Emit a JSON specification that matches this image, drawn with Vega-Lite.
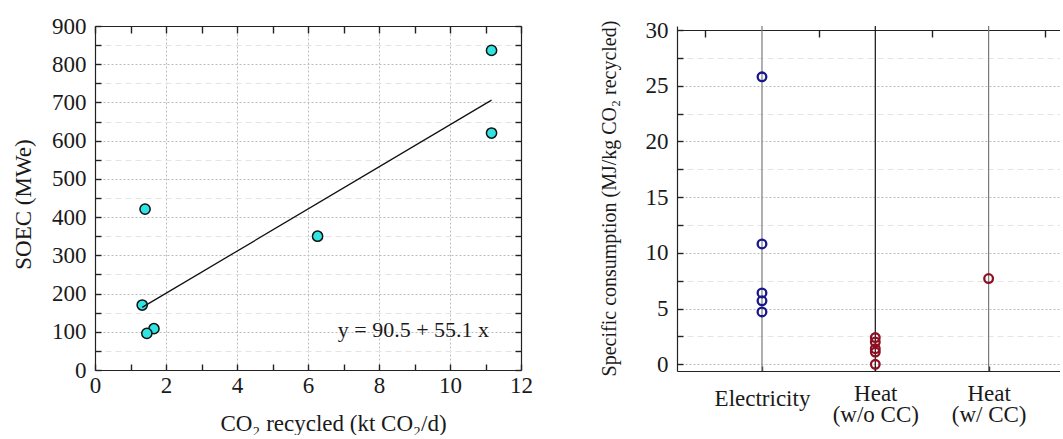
{
  "$schema": "https://vega.github.io/schema/vega-lite/v6.json",
  "padding": {"left": 12, "top": 15, "right": 0, "bottom": 0},
  "bounds": "flush",
  "spacing": 156,
  "config": {
    "view": {"stroke": null},
    "font": "Liberation Serif",
    "axis": {
      "labelFont": "Liberation Serif", "titleFont": "Liberation Serif",
      "labelFontSize": 23, "titleFontSize": 23, "titleFontWeight": "normal",
      "labelColor": "#1a1a1a", "titleColor": "#1a1a1a",
      "domainColor": "#222222", "tickColor": "#222222", "domainWidth": 1.2, "tickWidth": 1.4,
      "labelFlush": false, "labelOverlap": false
    }
  },
  "hconcat": [
    {
      "width": 426,
      "height": 344,
      "layer": [
        {
          "data": {"values": [
            {"x": 11.17, "y": 836},
            {"x": 11.17, "y": 620},
            {"x": 1.41, "y": 421},
            {"x": 6.27, "y": 350},
            {"x": 1.33, "y": 170},
            {"x": 1.66, "y": 108},
            {"x": 1.46, "y": 96}
          ]},
          "mark": {"type": "point", "shape": "circle", "filled": true, "size": 105, "fill": "#30e4e4", "stroke": "#111111", "strokeWidth": 1.5, "opacity": 1},
          "encoding": {
            "x": {"field": "x", "type": "quantitative",
              "scale": {"domain": [0, 12], "nice": false, "zero": false},
              "axis": {"orient": "bottom", "values": [0,1,2,3,4,5,6,7,8,9,10,11,12],
                "labelExpr": "datum.value % 2 === 0 ? datum.label : ''",
                "tickSize": -6, "labelPadding": 10,
                "grid": true, "gridColor": "#bdbdbd", "gridDash": [2, 2],
                "gridOpacity": {"condition": {"test": "datum.value % 2 === 0", "value": 1}, "value": 0},
                "title": "CO₂ recycled (kt CO₂/d)", "titleX": 238, "titleY": 42, "titleBaseline": "top"}},
            "y": {"field": "y", "type": "quantitative",
              "scale": {"domain": [0, 900], "nice": false, "zero": false},
              "axis": {"orient": "left", "values": [0,50,100,150,200,250,300,350,400,450,500,550,600,650,700,750,800,850,900],
                "labelExpr": "datum.value % 100 === 0 ? datum.label : ''",
                "tickSize": -6, "labelPadding": 15,
                "grid": true,
                "gridColor": {"condition": {"test": "datum.value % 100 === 0", "value": "#bdbdbd"}, "value": "#e4e4e4"},
                "gridDash": {"condition": {"test": "datum.value % 100 === 0", "value": [2, 2]}, "value": [6, 4]},
                "title": "SOEC (MWe)", "titleX": -72, "titleY": 178, "titleBaseline": "middle"}}
          }
        },
        {
          "data": {"values": [
            {"x": 1.33, "y": 163.8},
            {"x": 11.17, "y": 706}
          ]},
          "mark": {"type": "line", "color": "#111111", "strokeWidth": 1.3},
          "encoding": {
            "x": {"field": "x", "type": "quantitative",
              "axis": {"orient": "top", "values": [0,1,2,3,4,5,6,7,8,9,10,11,12], "tickSize": -7, "labels": false, "grid": false, "title": null}},
            "y": {"field": "y", "type": "quantitative",
              "axis": {"orient": "right", "values": [0,50,100,150,200,250,300,350,400,450,500,550,600,650,700,750,800,850,900], "tickSize": -6, "labels": false, "grid": false, "title": null}}
          }
        },
        {
          "data": {"values": [{"x": 11.1, "y": 105, "label": "y = 90.5 + 55.1 x"}]},
          "mark": {"type": "text", "align": "right", "baseline": "middle", "font": "Liberation Serif", "fontSize": 22, "color": "#1a1a1a"},
          "encoding": {
            "x": {"field": "x", "type": "quantitative", "axis": null},
            "y": {"field": "y", "type": "quantitative", "axis": null},
            "text": {"field": "label"}
          }
        }
      ],
      "resolve": {"axis": {"x": "independent", "y": "independent"}}
    },
    {
      "width": 383,
      "height": 345,
      "layer": [
        {
          "data": {"values": [{"cat": 1}, {"cat": 2}, {"cat": 3}]},
          "mark": {"type": "rule", "strokeWidth": 1.2},
          "encoding": {
            "x": {"field": "cat", "type": "quantitative",
              "scale": {"domain": [0.25, 3.63], "nice": false, "zero": false},
              "axis": {"orient": "top", "values": [0.5, 1.5, 2.5, 3.5], "tickSize": -7, "labels": false, "grid": false, "title": null, "offset": -4}},
            "color": {"condition": {"test": "datum.cat === 2", "value": "#111111"}, "value": "#7a7a7a"}
          }
        },
        {
          "data": {"values": [
            {"cat": 1, "source": "Electricity", "value": 25.8},
            {"cat": 1, "source": "Electricity", "value": 10.8},
            {"cat": 1, "source": "Electricity", "value": 6.4},
            {"cat": 1, "source": "Electricity", "value": 5.7},
            {"cat": 1, "source": "Electricity", "value": 4.7},
            {"cat": 2, "source": "Heat", "value": 2.4},
            {"cat": 2, "source": "Heat", "value": 2.0},
            {"cat": 2, "source": "Heat", "value": 1.4},
            {"cat": 2, "source": "Heat", "value": 1.1},
            {"cat": 2, "source": "Heat", "value": 0.0},
            {"cat": 3, "source": "Heat", "value": 7.7}
          ]},
          "mark": {"type": "point", "shape": "circle", "filled": false, "size": 75, "strokeWidth": 2.3, "opacity": 1},
          "encoding": {
            "x": {"field": "cat", "type": "quantitative",
              "axis": {"orient": "bottom", "values": [1, 2, 3],
                "labelExpr": "datum.value === 1 ? 'Electricity' : datum.value === 2 ? ['Heat', '(w/o CC)'] : ['Heat', '(w/ CC)']",
                "labelBaseline": "middle", "labelLineHeight": 21,
                "labelPadding": {"condition": {"test": "datum.value === 1", "value": 32}, "value": 27},
                "tickSize": -5, "grid": false, "title": null}},
            "y": {"field": "value", "type": "quantitative",
              "scale": {"domain": [-0.6, 30.36], "nice": false, "zero": false},
              "axis": {"orient": "left", "values": [0, 2.5, 5, 7.5, 10, 12.5, 15, 17.5, 20, 22.5, 25, 27.5, 30],
                "labelExpr": "datum.value % 5 === 0 ? datum.label : ''",
                "tickSize": -6, "labelPadding": 15,
                "grid": true,
                "gridColor": {"condition": {"test": "datum.value % 5 === 0", "value": "#bdbdbd"}, "value": "#e4e4e4"},
                "gridDash": {"condition": {"test": "datum.value % 5 === 0", "value": [2, 2]}, "value": [6, 4]},
                "title": "Specific consumption (MJ/kg CO₂ recycled)", "titleFontSize": 20,
                "titleX": -68, "titleY": 172, "titleBaseline": "middle"}},
            "color": {"field": "source", "type": "nominal",
              "scale": {"domain": ["Electricity", "Heat"], "range": ["#18188c", "#8e0f22"]}, "legend": null}
          }
        }
      ],
      "resolve": {"axis": {"x": "independent", "y": "independent"}}
    }
  ]
}
